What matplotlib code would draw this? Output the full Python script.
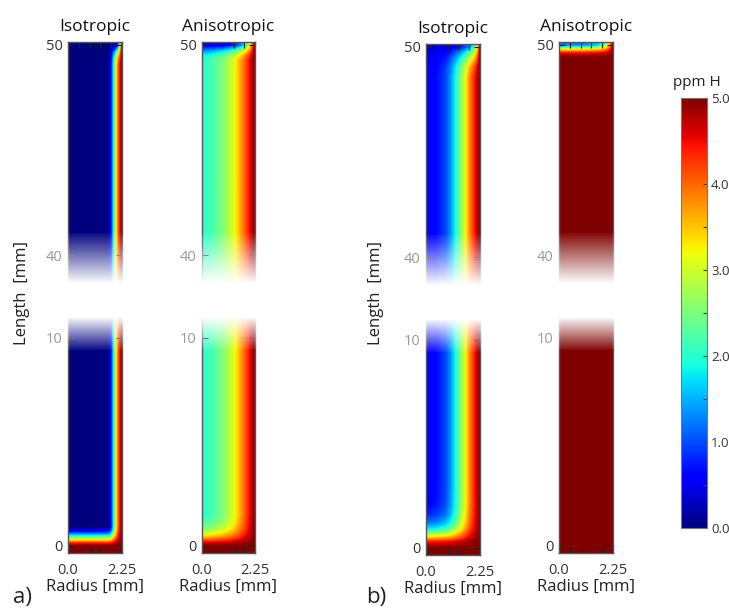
import numpy as np
import matplotlib
matplotlib.use("Agg")
import matplotlib.pyplot as plt
from matplotlib.colors import Normalize
from matplotlib.cm import ScalarMappable

plt.rcParams["font.family"] = ["Open Sans", "DejaVu Sans"]

R_MAX = 2.25
Z_TOP = 50.0
C_MAX = 5.0

# hydrogen (ppm H) across the radius, away from the ends
iso_a_r = [0, 1.65, 1.75, 1.82, 1.88, 1.95, 2.02, 2.1, 2.18, 2.25]
iso_a_c = [0, 0, 0.3, 0.9, 1.7, 2.5, 3.3, 4.1, 4.6, 5.0]
ani_a_r = [0, 0.3, 0.6, 0.9, 1.2, 1.4, 1.6, 1.8, 2.0, 2.15, 2.25]
ani_a_c = [2.0, 2.1, 2.3, 2.55, 2.9, 3.2, 3.6, 4.0, 4.45, 4.8, 5.0]
iso_b_r = [0, 0.4, 0.8, 1.0, 1.2, 1.42, 1.63, 1.83, 2.04, 2.25]
iso_b_c = [0.55, 0.65, 0.95, 1.3, 1.8, 2.45, 3.15, 3.85, 4.45, 5.0]
ani_b_r = [0, 2.25]
ani_b_c = [5.0, 5.0]

# top row (z = 50) across the radius
iso_a_top_r = [0, 1.95, 2.05, 2.12, 2.18, 2.22, 2.25]
iso_a_top_c = [0, 0, 0.5, 1.5, 3.0, 4.3, 5.0]
ani_a_top_r = [0, 0.9, 1.4, 1.7, 1.9, 2.05, 2.15, 2.25]
ani_a_top_c = [0.4, 0.5, 0.8, 1.4, 2.2, 3.2, 4.2, 5.0]
iso_b_top_r = [0, 1.0, 1.5, 1.8, 2.0, 2.15, 2.25]
iso_b_top_c = [0.3, 0.45, 0.8, 1.3, 2.0, 3.3, 5.0]
ani_b_top_r = [0, 1.0, 1.6, 1.9, 2.1, 2.25]
ani_b_top_c = [1.2, 1.3, 1.6, 2.3, 3.5, 5.0]

# weight of the top row vs. depth below z = 50
iso_a_top_d = [0, 0.15, 0.35, 0.6, 0.9]
iso_a_top_w = [1, 0.7, 0.35, 0.1, 0]
ani_a_top_d = [0, 0.1, 0.25, 0.45, 0.7]
ani_a_top_w = [1, 0.75, 0.45, 0.15, 0]
iso_b_top_d = [0, 0.2, 0.5, 0.9, 1.4]
iso_b_top_w = [1, 0.7, 0.4, 0.12, 0]
ani_b_top_d = [0, 0.1, 0.2, 0.35, 0.55]
ani_b_top_w = [1, 0.7, 0.45, 0.15, 0]

# ppm H on the axis near the bottom end (z = 0)
iso_a_bot_z = [0, 0.15, 0.32, 0.5, 0.68, 0.9]
iso_a_bot_c = [5, 4.3, 3.0, 1.8, 0.7, 0]
ani_a_bot_z = [0, 0.2, 0.4, 0.6, 0.8, 1.1, 1.5]
ani_a_bot_c = [5, 4.4, 3.6, 3.0, 2.55, 2.2, 2.0]
iso_b_bot_z = [0, 0.3, 0.55, 0.9, 1.2, 1.6, 2.1, 3.0]
iso_b_bot_c = [5, 4.4, 3.2, 1.8, 1.2, 0.8, 0.6, 0.55]

titles = ["Isotropic", "Anisotropic", "Isotropic", "Anisotropic"]
cbar_ticks = [0, 1, 2, 3, 4, 5]

TOP_LIM = (38.67, 50.14)
BOT_LIM = (-0.34, 10.96)

W, H = 729, 608
fig = plt.figure(figsize=(W / 100, H / 100), dpi=100)


def px_axes(x0, y0, x1, y1, **kw):
    return fig.add_axes([x0 / W, 1 - y1 / H, (x1 - x0) / W, (y1 - y0) / H], **kw)


rr = np.linspace(0, R_MAX, 200)


def top_field(br, bc, tr, tc, td, tw):
    z = np.linspace(TOP_LIM[0], TOP_LIM[1], 400)
    f = np.interp(rr, br, bc)
    t = np.interp(rr, tr, tc)
    s = np.interp(np.clip(Z_TOP - z, 0, None), td, tw)
    return f[None, :] * (1 - s[:, None]) + t[None, :] * s[:, None]


def bottom_field(br, bc, bz, bcz):
    z = np.linspace(BOT_LIM[0], BOT_LIM[1], 400)
    f = np.interp(rr, br, bc)
    if bz is None:
        return np.tile(f, (len(z), 1))
    b = np.interp(np.clip(z, 0, None), bz, bcz)
    w = (b - f[0]) / (C_MAX - f[0])
    return C_MAX - (C_MAX - f[None, :]) * (1 - w[:, None])


def fade(x0, y0, x1, y1, white_at_bottom):
    ax = px_axes(x0 - 5, y0, x1 + 5, y1, zorder=10)
    ax.set_facecolor("none")
    ax.axis("off")
    a = np.linspace(0, 1, 120)
    img = np.ones((120, 1, 4))
    img[:, 0, 3] = np.clip(1.05 - a, 0, 1) if white_at_bottom else np.clip(a + 0.05, 0, 1)
    ax.imshow(img, origin="lower", aspect="auto", extent=(0, 1, 0, 1),
              interpolation="bilinear")
    ax.set_xlim(0, 1)
    ax.set_ylim(0, 1)


def style(ax, part):
    ax.set_xlim(0, R_MAX)
    for sp in ax.spines.values():
        sp.set_color("#555555")
        sp.set_linewidth(1.0)
    ax.spines["bottom" if part == "top" else "top"].set_visible(False)
    ax.set_xticks([0, R_MAX])
    ax.set_xticks(np.arange(0.45, 2.2, 0.45), minor=True)
    ax.tick_params(axis="x", which="both", direction="in", length=4, width=0.8,
                   color="#222222", top=(part == "top"), bottom=(part == "bottom"),
                   labeltop=False, labelbottom=(part == "bottom"),
                   labelsize=10.5, labelcolor="#333333", pad=7)
    if part == "top":
        ax.set_ylim(*TOP_LIM)
        ax.set_yticks([40, 50])
        ax.set_yticklabels(["40", "50"])
        cols = ["#999999", "#333333"]
    else:
        ax.set_ylim(*BOT_LIM)
        ax.set_yticks([0, 10])
        ax.set_yticklabels(["0", "10"])
        ax.set_xticklabels(["0.0", "2.25"])
        cols = ["#333333", "#999999"]
    ax.tick_params(axis="y", direction="in", length=4, width=0.8, color="#222222",
                   left=True, right=True, labelsize=10.5, pad=4)
    for lab, c in zip(ax.get_yticklabels(), cols):
        lab.set_color(c)


fields = [
    (top_field(iso_a_r, iso_a_c, iso_a_top_r, iso_a_top_c, iso_a_top_d, iso_a_top_w),
     bottom_field(iso_a_r, iso_a_c, iso_a_bot_z, iso_a_bot_c)),
    (top_field(ani_a_r, ani_a_c, ani_a_top_r, ani_a_top_c, ani_a_top_d, ani_a_top_w),
     bottom_field(ani_a_r, ani_a_c, ani_a_bot_z, ani_a_bot_c)),
    (top_field(iso_b_r, iso_b_c, iso_b_top_r, iso_b_top_c, iso_b_top_d, iso_b_top_w),
     bottom_field(iso_b_r, iso_b_c, iso_b_bot_z, iso_b_bot_c)),
    (top_field(ani_b_r, ani_b_c, ani_b_top_r, ani_b_top_c, ani_b_top_d, ani_b_top_w),
     bottom_field(ani_b_r, ani_b_c, None, None)),
]

# pixel boxes: x0, x1, top section y0-y1, bottom section y0-y1
boxes = [
    (68, 122, 42, 283, 318, 553),
    (202, 255, 42, 283, 318, 553),
    (426, 480, 44, 285, 320, 555),
    (559, 613, 42, 283, 318, 553),
]

for (x0, x1, ty0, ty1, by0, by1), (ftop, fbot), title in zip(boxes, fields, titles):
    at = px_axes(x0, ty0, x1, ty1)
    at.imshow(ftop, origin="lower", aspect="auto", cmap="jet", vmin=0, vmax=C_MAX,
              extent=(0, R_MAX, TOP_LIM[0], TOP_LIM[1]), interpolation="bilinear")
    style(at, "top")
    at.set_title(title, fontsize=12.5, pad=8, color="#111111")

    ab = px_axes(x0, by0, x1, by1)
    ab.imshow(fbot, origin="lower", aspect="auto", cmap="jet", vmin=0, vmax=C_MAX,
              extent=(0, R_MAX, BOT_LIM[0], BOT_LIM[1]), interpolation="bilinear")
    style(ab, "bottom")
    ab.set_xlabel("Radius [mm]", fontsize=12, labelpad=1, color="#222222")

    fade(x0, ty1 - 50, x1, ty1 + 3, True)
    fade(x0, by0 - 3, x1, by0 + 32, False)

for x, lab in [(22, "a)"), (376, "b)")]:
    fig.text(x / W, 1 - 293 / H, "Length  [mm]", rotation=90, ha="center",
             va="center", fontsize=12, color="#222222")
    fig.text(x / W, 1 - 597 / H, lab, ha="center", va="center", fontsize=16,
             color="#222222")

cax = px_axes(681, 98, 707, 528)
cb = fig.colorbar(ScalarMappable(Normalize(0, C_MAX), cmap="jet"), cax=cax)
cb.set_ticks(cbar_ticks)
cb.set_ticklabels([f"{t:.1f}" for t in cbar_ticks])
cax.set_yticks(np.arange(0.5, 5, 1.0), minor=True)
cax.tick_params(which="both", direction="in", length=3, width=0.8, color="#444444",
                labelsize=9.5, labelcolor="#333333", pad=3)
cb.outline.set_edgecolor("#777777")
cb.outline.set_linewidth(0.8)
fig.text(697 / W, 1 - 82 / H, "ppm H", ha="center", va="center", fontsize=11,
         color="#222222")

fig.savefig("out.png", dpi=100)
